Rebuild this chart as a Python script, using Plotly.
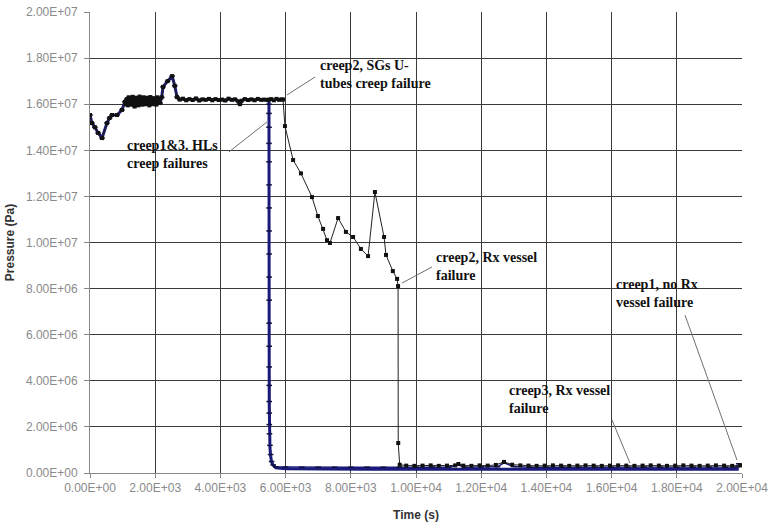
import plotly.graph_objects as go

# ---------------- data ----------------
# common early trajectory (all three cases), time in s, pressure in Pa
t_common = [0, 60, 150, 250, 370, 520, 600, 675, 830, 980, 1070,
            1100, 1130, 1160, 1190, 1220, 1250, 1280, 1310, 1340, 1370,
            1400, 1430, 1460, 1490, 1520, 1550, 1580, 1610, 1640, 1670,
            1700, 1730, 1760, 1790, 1820, 1850, 1880, 1910, 1940, 1970,
            2000, 2030, 2060, 2090, 2120, 2150, 2200, 2240, 2380, 2520,
            2600, 2670, 2750, 2850, 2950, 3050, 3150, 3250, 3350, 3450,
            3550, 3650, 3750, 3850, 3950, 4050, 4150, 4250, 4350, 4450,
            4550, 4600, 4650, 4750, 4850, 4950, 5050, 5150, 5250, 5350,
            5450, 5490]
p_common = [1.553e7, 1.518e7, 1.500e7, 1.475e7, 1.453e7, 1.518e7, 1.540e7, 1.553e7, 1.553e7, 1.575e7, 1.610e7,
            1.600e7, 1.622e7, 1.595e7, 1.630e7, 1.608e7, 1.625e7, 1.598e7, 1.632e7, 1.612e7, 1.590e7,
            1.628e7, 1.605e7, 1.620e7, 1.595e7, 1.633e7, 1.610e7, 1.625e7, 1.598e7, 1.630e7, 1.615e7,
            1.600e7, 1.628e7, 1.608e7, 1.622e7, 1.595e7, 1.631e7, 1.612e7, 1.600e7, 1.626e7, 1.610e7,
            1.623e7, 1.598e7, 1.630e7, 1.612e7, 1.620e7, 1.605e7, 1.630e7, 1.675e7, 1.700e7, 1.722e7,
            1.680e7, 1.631e7, 1.620e7, 1.624e7, 1.617e7, 1.622e7, 1.618e7, 1.625e7, 1.616e7, 1.621e7,
            1.619e7, 1.623e7, 1.617e7, 1.622e7, 1.618e7, 1.620e7, 1.616e7, 1.624e7, 1.619e7, 1.621e7,
            1.612e7, 1.600e7, 1.615e7, 1.622e7, 1.618e7, 1.621e7, 1.617e7, 1.623e7, 1.619e7, 1.620e7,
            1.618e7, 1.620e7]

# creep 2: continues at high pressure until SG U-tube failure, then depressurises
t_c2 = [5560, 5640, 5720, 5800, 5880, 5920, 5980, 6230, 6470, 6810, 6990, 7150, 7270, 7360,
        7610, 7850, 8070, 8310, 8530, 8740, 9020, 9080, 9290, 9420, 9450, 9455, 9500,
        9700, 9950, 10200, 10450, 10700, 10950, 11200, 11300, 11450, 11700, 11950, 12200,
        12450, 12700, 12950, 13200, 13450, 13700, 13950, 14200, 14450, 14700, 14950, 15200,
        15450, 15700, 15950, 16200, 16450, 16700, 16950, 17200, 17450, 17700, 17950, 18200,
        18450, 18700, 18950, 19200, 19450, 19700, 19950]
p_c2 = [1.622e7, 1.617e7, 1.623e7, 1.619e7, 1.621e7, 1.620e7, 1.505e7, 1.358e7, 1.300e7, 1.197e7, 1.115e7, 1.059e7, 1.010e7, 0.998e7,
        1.106e7, 1.046e7, 1.024e7, 0.972e7, 0.941e7, 1.219e7, 1.024e7, 0.946e7, 0.876e7, 0.842e7, 0.811e7, 1.30e6, 3.6e5,
        3.2e5, 3.1e5, 3.2e5, 3.3e5, 3.1e5, 3.2e5, 3.3e5, 3.9e5, 3.2e5, 3.1e5, 3.3e5, 3.2e5,
        3.5e5, 4.8e5, 3.6e5, 3.3e5, 3.2e5, 3.1e5, 3.2e5, 3.3e5, 3.2e5, 3.1e5, 3.2e5, 3.3e5,
        3.2e5, 3.1e5, 3.2e5, 3.3e5, 3.2e5, 3.1e5, 3.2e5, 3.3e5, 3.2e5, 3.1e5, 3.2e5, 3.3e5,
        3.2e5, 3.1e5, 3.2e5, 3.3e5, 3.2e5, 3.1e5, 3.3e5]

# creep 1 & 3: hot-leg creep failure and fast depressurisation
t_c13 = [5490, 5491, 5492, 5492, 5493, 5493, 5494, 5494, 5495, 5495, 5496, 5496, 5497, 5497,
         5498, 5498, 5499, 5500, 5505, 5520, 5540, 5570, 5620, 5700,
         6000, 6500, 7000, 7500, 8000, 8500, 9000, 9500, 10000, 10500, 11000, 11300, 11500,
         12000, 12500, 12700, 13000, 13500, 14000, 14500, 15000, 15500, 16000, 16500, 17000,
         17500, 18000, 18500, 19000, 19500, 19850, 19900]
p_c1 = [1.60e7, 1.55e7, 1.48e7, 1.40e7, 1.30e7, 1.22e7, 1.12e7, 1.02e7, 9.2e6, 8.2e6, 7.2e6, 6.2e6, 5.2e6, 4.4e6,
        3.6e6, 3.0e6, 2.5e6, 2.0e6, 1.6e6, 1.1e6, 7.5e5, 4.8e5, 3.3e5, 2.2e5,
        1.8e5, 1.7e5, 1.7e5, 1.6e5, 1.6e5, 1.6e5, 1.6e5, 1.6e5, 1.6e5, 1.6e5, 1.6e5, 1.6e5, 1.6e5,
        1.6e5, 1.6e5, 1.6e5, 1.6e5, 1.6e5, 1.6e5, 1.6e5, 1.6e5, 1.6e5, 1.6e5, 1.6e5, 1.6e5,
        1.6e5, 1.6e5, 1.6e5, 1.6e5, 1.6e5, 1.6e5, 1.6e5]
p_c3 = [1.60e7, 1.56e7, 1.50e7, 1.43e7, 1.35e7, 1.25e7, 1.15e7, 1.05e7, 9.5e6, 8.5e6, 7.5e6, 6.5e6, 5.5e6, 4.6e6,
        3.8e6, 3.1e6, 2.6e6, 2.1e6, 1.7e6, 1.2e6, 8.0e5, 5.0e5, 3.5e5, 2.7e5,
        2.6e5, 2.5e5, 2.5e5, 2.5e5, 2.5e5, 2.5e5, 2.5e5, 2.5e5, 2.5e5, 2.6e5, 2.5e5, 3.4e5, 2.5e5,
        2.6e5, 2.7e5, 4.4e5, 2.8e5, 2.5e5, 2.5e5, 2.5e5, 2.5e5, 2.5e5, 2.5e5, 2.5e5, 2.5e5,
        2.5e5, 2.5e5, 2.5e5, 2.5e5, 2.5e5, 2.6e5, 4.0e5]

x_ticks = [0, 2000, 4000, 6000, 8000, 10000, 12000, 14000, 16000, 18000, 20000]
x_tick_labels = ["0.00E+00", "2.00E+03", "4.00E+03", "6.00E+03", "8.00E+03", "1.00E+04",
                 "1.20E+04", "1.40E+04", "1.60E+04", "1.80E+04", "2.00E+04"]
y_ticks = [0, 2e6, 4e6, 6e6, 8e6, 1e7, 1.2e7, 1.4e7, 1.6e7, 1.8e7, 2e7]
y_tick_labels = ["0.00E+00", "2.00E+06", "4.00E+06", "6.00E+06", "8.00E+06", "1.00E+07",
                 "1.20E+07", "1.40E+07", "1.60E+07", "1.80E+07", "2.00E+07"]

# ---------------- figure ----------------
fig = go.Figure()
navy = "#1a1a7a"
fig.add_trace(go.Scatter(x=t_common + t_c13, y=p_common + p_c1, mode="lines",
                         line=dict(color=navy, width=3), name="creep1"))
fig.add_trace(go.Scatter(x=t_common + t_c13, y=p_common + p_c3, mode="lines+markers",
                         line=dict(color=navy, width=1.5),
                         marker=dict(symbol="line-ew", size=4, line=dict(color="#101040", width=1.5)),
                         name="creep3"))
fig.add_trace(go.Scatter(x=t_common + t_c2, y=p_common + p_c2, mode="lines+markers",
                         line=dict(color="#222222", width=1),
                         marker=dict(symbol="square", size=4, color="#111111"),
                         name="creep2"))

afont = dict(family="Liberation Serif", size=14, color="#111111")
notes = [
    ("<b>creep1&3. HLs<br>creep failures</b>", 1074, 1.38e7, 4264, 1.393e7, 5429, 1.523e7),
    ("<b>creep2, SGs U-<br>tubes creep failure</b>", 6994, 1.727e7, 6902, 1.718e7, 6043, 1.640e7),
    ("<b>creep2, Rx vessel<br>failure</b>", 10552, 0.898e7, 10491, 0.894e7, 9571, 0.824e7),
    ("<b>creep3, Rx vessel<br>failure</b>", 12791, 3.17e6, 16012, 2.30e6, 16564, 4.3e5),
    ("<b>creep1, no Rx<br>vessel failure</b>", 16074, 7.77e6, 18252, 6.85e6, 19847, 5.6e5),
]
for txt, tx, ty, x0, y0, x1, y1 in notes:
    fig.add_annotation(x=tx, y=ty, xref="x", yref="y", text=txt, showarrow=False,
                       xanchor="left", yanchor="middle", align="left", font=afont)
    fig.add_shape(type="line", x0=x0, y0=y0, x1=x1, y1=y1, xref="x", yref="y",
                  line=dict(color="#707070", width=1))

fig.update_layout(
    width=769, height=526,
    margin=dict(l=90, r=27, t=12, b=53, autoexpand=False),
    paper_bgcolor="white", plot_bgcolor="white",
    showlegend=False,
    font=dict(family="Liberation Sans", color="#888888"),
)
fig.update_xaxes(range=[0, 20000], tickvals=x_ticks, ticktext=x_tick_labels,
                 tickfont=dict(size=12, color="#8a8a8a"),
                 showgrid=True, gridcolor="#3a3a3a", gridwidth=1,
                 showline=True, linecolor="#888888", linewidth=1,
                 ticks="outside", ticklen=4, tickcolor="#888888",
                 zeroline=False, mirror=False, automargin=False,
                 title=dict(text="<b>Time (s)</b>", font=dict(size=12, color="#333333"), standoff=16))
fig.update_yaxes(range=[0, 2e7], tickvals=y_ticks, ticktext=y_tick_labels,
                 tickfont=dict(size=12, color="#8a8a8a"),
                 showgrid=True, gridcolor="#3a3a3a", gridwidth=1,
                 showline=True, linecolor="#888888", linewidth=1,
                 ticks="outside", ticklen=5, tickcolor="#888888", ticklabelstandoff=4,
                 zeroline=False, automargin=False,
                 title=dict(text="<b>Pressure (Pa)</b>", font=dict(size=12, color="#333333"), standoff=8))

fig.write_html("out.html")
